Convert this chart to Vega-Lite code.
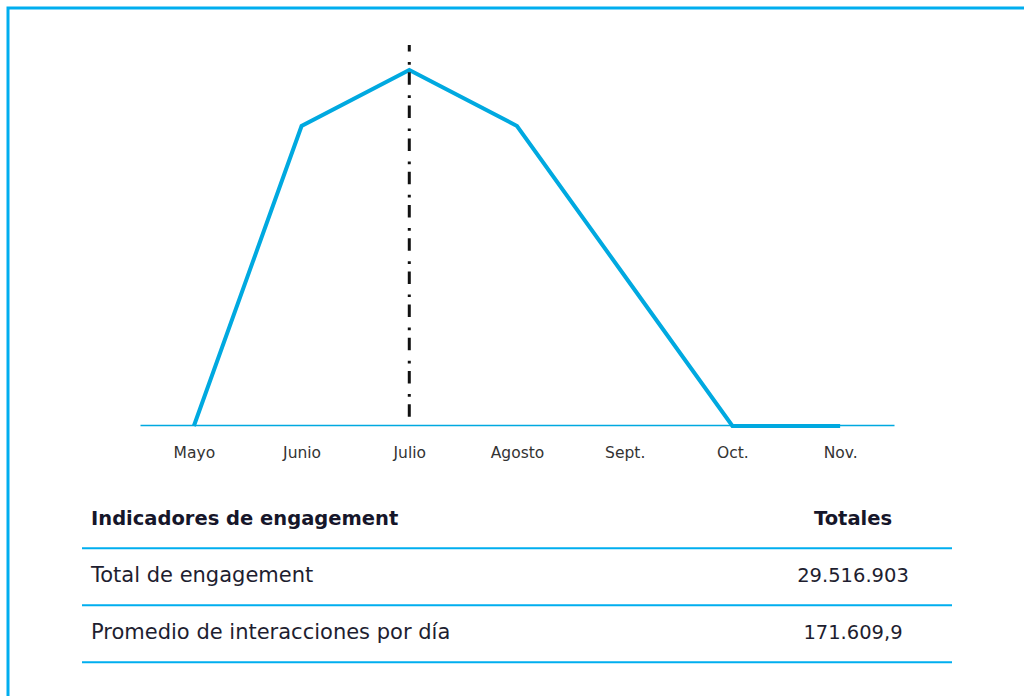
{
  "$schema": "https://vega.github.io/schema/vega-lite/v6.json",
  "width": 1026,
  "height": 698,
  "autosize": {"type": "none"},
  "padding": {"left": 8, "top": 8, "right": -10, "bottom": -10},
  "background": "white",
  "config": {"view": {"stroke": "#00AEEF", "strokeWidth": 3}, "font": "DejaVu Sans"},
  "datasets": {
    "months": [
      {"month": "Mayo", "engagement": 0},
      {"month": "Junio", "engagement": 8006000},
      {"month": "Julio", "engagement": 9500000},
      {"month": "Agosto", "engagement": 8006000},
      {"month": "Sept.", "engagement": 4003000},
      {"month": "Oct.", "engagement": 0},
      {"month": "Nov.", "engagement": 0}
    ],
    "peak": [{"month": "Julio", "top": 10167000, "bottom": 0}],
    "lines": [
      {"line": 0, "start": 0, "end": 1},
      {"line": 1, "start": 0, "end": 1},
      {"line": 2, "start": 0, "end": 1}
    ],
    "table": [
      {"row": 0, "col": "indicador", "text": "Indicadores de engagement"},
      {"row": 0, "col": "total", "text": "Totales"},
      {"row": 1, "col": "indicador", "text": "Total de engagement"},
      {"row": 1, "col": "total", "text": "29.516.903"},
      {"row": 2, "col": "indicador", "text": "Promedio de interacciones por día"},
      {"row": 2, "col": "total", "text": "171.609,9"}
    ]
  },
  "layer": [
    {
      "data": {"name": "lines"},
      "mark": {"type": "rule", "color": "#00AEEF", "strokeWidth": 2},
      "encoding": {
        "x": {"field": "start", "type": "quantitative", "scale": {"domain": [0, 1], "range": [74, 944], "nice": false, "zero": false}, "axis": null},
        "x2": {"field": "end"},
        "y": {"field": "line", "type": "quantitative", "scale": {"domain": [0, 2], "range": [540.3, 654.3], "nice": false, "zero": false}, "axis": null}
      }
    },
    {
      "data": {"name": "table"},
      "transform": [{"filter": "datum.col == 'indicador' && datum.row == 0"}],
      "mark": {"type": "text", "align": "left", "baseline": "alphabetic", "font": "DejaVu Sans", "fontWeight": "bold", "fontSize": 19.5, "color": "#16162a"},
      "encoding": {
        "x": {"field": "col", "type": "nominal", "scale": {"type": "point", "domain": ["indicador", "total"], "range": [83, 845], "padding": 0}, "axis": null},
        "y": {"field": "row", "type": "quantitative", "scale": {"domain": [0, 2], "range": [517, 630.5], "nice": false, "zero": false}, "axis": null},
        "text": {"field": "text"}
      }
    },
    {
      "data": {"name": "table"},
      "transform": [{"filter": "datum.col == 'total' && datum.row == 0"}],
      "mark": {"type": "text", "align": "center", "baseline": "alphabetic", "font": "DejaVu Sans", "fontWeight": "bold", "fontSize": 19.5, "color": "#16162a"},
      "encoding": {
        "x": {"field": "col", "type": "nominal", "scale": {"type": "point", "domain": ["indicador", "total"], "range": [83, 845], "padding": 0}, "axis": null},
        "y": {"field": "row", "type": "quantitative", "scale": {"domain": [0, 2], "range": [517, 630.5], "nice": false, "zero": false}, "axis": null},
        "text": {"field": "text"}
      }
    },
    {
      "data": {"name": "table"},
      "transform": [{"filter": "datum.col == 'indicador' && datum.row > 0"}],
      "mark": {"type": "text", "align": "left", "baseline": "alphabetic", "font": "DejaVu Sans", "fontSize": 21, "color": "#1e1e30"},
      "encoding": {
        "x": {"field": "col", "type": "nominal", "scale": {"type": "point", "domain": ["indicador", "total"], "range": [83, 845], "padding": 0}, "axis": null},
        "y": {"field": "row", "type": "quantitative", "scale": {"domain": [0, 2], "range": [517, 630.5], "nice": false, "zero": false}, "axis": null},
        "text": {"field": "text"}
      }
    },
    {
      "data": {"name": "table"},
      "transform": [{"filter": "datum.col == 'total' && datum.row > 0"}],
      "mark": {"type": "text", "align": "center", "baseline": "alphabetic", "font": "DejaVu Sans", "fontSize": 19.5, "color": "#1e1e30"},
      "encoding": {
        "x": {"field": "col", "type": "nominal", "scale": {"type": "point", "domain": ["indicador", "total"], "range": [83, 845], "padding": 0}, "axis": null},
        "y": {"field": "row", "type": "quantitative", "scale": {"domain": [0, 2], "range": [517, 630.5], "nice": false, "zero": false}, "axis": null},
        "text": {"field": "text"}
      }
    },
    {
      "data": {"name": "months"},
      "mark": {"type": "line", "color": "#00A9E0", "strokeWidth": 4, "strokeJoin": "miter"},
      "encoding": {
        "x": {
          "field": "month", "type": "ordinal", "sort": null,
          "scale": {"type": "point", "domain": ["Mayo", "Junio", "Julio", "Agosto", "Sept.", "Oct.", "Nov."], "range": [132, 886], "padding": 0.5},
          "axis": {"title": null, "ticks": false, "grid": false, "domainColor": "#00A9E0", "domainWidth": 1.5, "labelFont": "DejaVu Sans", "labelFontSize": 15.5, "labelColor": "#333333", "labelPadding": 32, "labelBaseline": "alphabetic", "labelAngle": 0, "offset": -281}
        },
        "y": {"field": "engagement", "type": "quantitative", "scale": {"domain": [0, 9500000], "range": [418, 62], "nice": false, "zero": false}, "axis": null}
      }
    },
    {
      "data": {"name": "peak"},
      "mark": {"type": "rule", "color": "#111111", "strokeWidth": 3, "strokeDash": [12.5, 10.5, 2.7, 7.5], "strokeDashOffset": 6},
      "encoding": {
        "x": {"field": "month", "type": "ordinal", "scale": {"type": "point", "domain": ["Mayo", "Junio", "Julio", "Agosto", "Sept.", "Oct.", "Nov."], "range": [132, 886], "padding": 0.5}, "axis": null},
        "y": {"field": "top", "type": "quantitative", "scale": {"domain": [0, 9500000], "range": [418, 62], "nice": false, "zero": false}, "axis": null},
        "y2": {"field": "bottom"}
      }
    }
  ],
  "resolve": {"scale": {"x": "independent", "y": "independent"}}
}
